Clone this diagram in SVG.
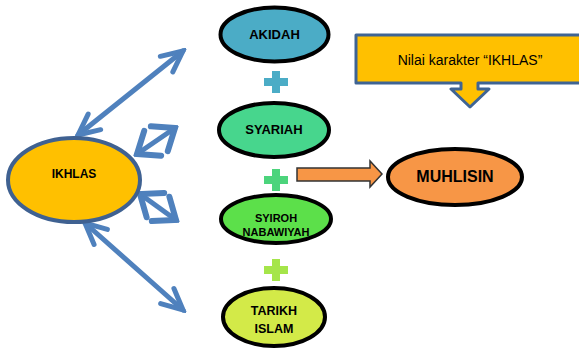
<svg xmlns="http://www.w3.org/2000/svg" width="579" height="349" viewBox="0 0 579 349">
<defs>
<style>
.node{stroke:#000;stroke-width:4}
.lbl{font-family:"Liberation Sans",Arial,sans-serif;font-weight:bold;fill:#000;text-anchor:middle}
.conn{stroke:#4F81BD;stroke-width:5;stroke-linecap:round;fill:none}
.head{fill:none;stroke:#4F81BD;stroke-width:5;stroke-linecap:round;stroke-linejoin:miter}
</style>
<marker id="big" markerUnits="userSpaceOnUse" viewBox="-30 -15 34 30" refX="0" refY="0" markerWidth="34" markerHeight="30" orient="auto-start-reverse">
<path class="head" d="M-21,-10 L0,0 L-21,10"/>
</marker>
<marker id="small" markerUnits="userSpaceOnUse" viewBox="-30 -22 34 44" refX="0" refY="0" markerWidth="34" markerHeight="44" orient="auto-start-reverse">
<path class="head" d="M-19,-15 L0,0 L-19,15" style="stroke-width:6"/>
</marker>
</defs>
<rect width="579" height="349" fill="#fff"/>

<g id="connectors">
<line class="conn" x1="78" y1="135" x2="183" y2="51" marker-start="url(#big)" marker-end="url(#big)"/>
<line class="conn" x1="137" y1="154" x2="175" y2="128" marker-start="url(#small)" marker-end="url(#small)"/>
<line class="conn" x1="140" y1="194" x2="176" y2="220" marker-start="url(#small)" marker-end="url(#small)"/>
<line class="conn" x1="85" y1="223" x2="183" y2="310" marker-start="url(#big)" marker-end="url(#big)"/>
<path id="arrow-muhlisin" d="M297,168 H370 V161 L382,174 L370,187 V181 H297 Z" fill="#F79646" stroke="#333" stroke-width="1.5"/>
</g>

<g id="plus1"><path d="M272,71 H280 V78 H288 V86 H280 V93 H272 V86 H264 V78 H272 Z" fill="#4BACC6"/></g>
<g id="plus2"><path d="M272,169 H280 V176 H288 V184 H280 V191 H272 V184 H264 V176 H272 Z" fill="#4CD47C"/></g>
<g id="plus3"><path d="M272,259 H280 V266 H288 V274 H280 V281 H272 V274 H264 V266 H272 Z" fill="#A5E54A"/></g>

<g id="ikhlas">
<ellipse cx="74" cy="180" rx="66" ry="42" fill="#FFC000" stroke="#3F6191" stroke-width="4"/>
<text class="lbl" x="74" y="178" font-size="12">IKHLAS</text>
</g>

<g id="akidah">
<ellipse class="node" cx="274.5" cy="34.5" rx="54" ry="27" fill="#4BACC6"/>
<text class="lbl" x="274.5" y="39" font-size="13">AKIDAH</text>
</g>

<g id="syariah">
<ellipse class="node" cx="274" cy="130" rx="55" ry="27" fill="#47D68D"/>
<text class="lbl" x="274" y="134" font-size="13">SYARIAH</text>
</g>

<g id="syiroh">
<ellipse class="node" cx="276" cy="219" rx="55" ry="24" fill="#5CE04A"/>
<text class="lbl" x="276" y="222" font-size="11">SYIROH</text>
<text class="lbl" x="276" y="236" font-size="11">NABAWIYAH</text>
</g>

<g id="tarikh">
<ellipse class="node" cx="274" cy="317" rx="51" ry="29" fill="#D3EA48"/>
<text class="lbl" x="274" y="315" font-size="12.5">TARIKH</text>
<text class="lbl" x="274" y="333" font-size="12.5">ISLAM</text>
</g>

<g id="muhlisin">
<ellipse class="node" cx="455" cy="177" rx="67" ry="28" fill="#F79646"/>
<text class="lbl" x="455" y="182" font-size="16">MUHLISIN</text>
</g>

<g id="callout">
<path d="M356,35 H586 V83 H478 V89 H489 L470,107 L451,89 H461 V83 H356 Z" fill="#FFC000" stroke="#3F6494" stroke-width="3" stroke-linejoin="round"/>
<text x="470" y="65" font-family="'Liberation Sans',Arial,sans-serif" font-size="14" fill="#000" text-anchor="middle">Nilai karakter “IKHLAS”</text>
</g>
</svg>
